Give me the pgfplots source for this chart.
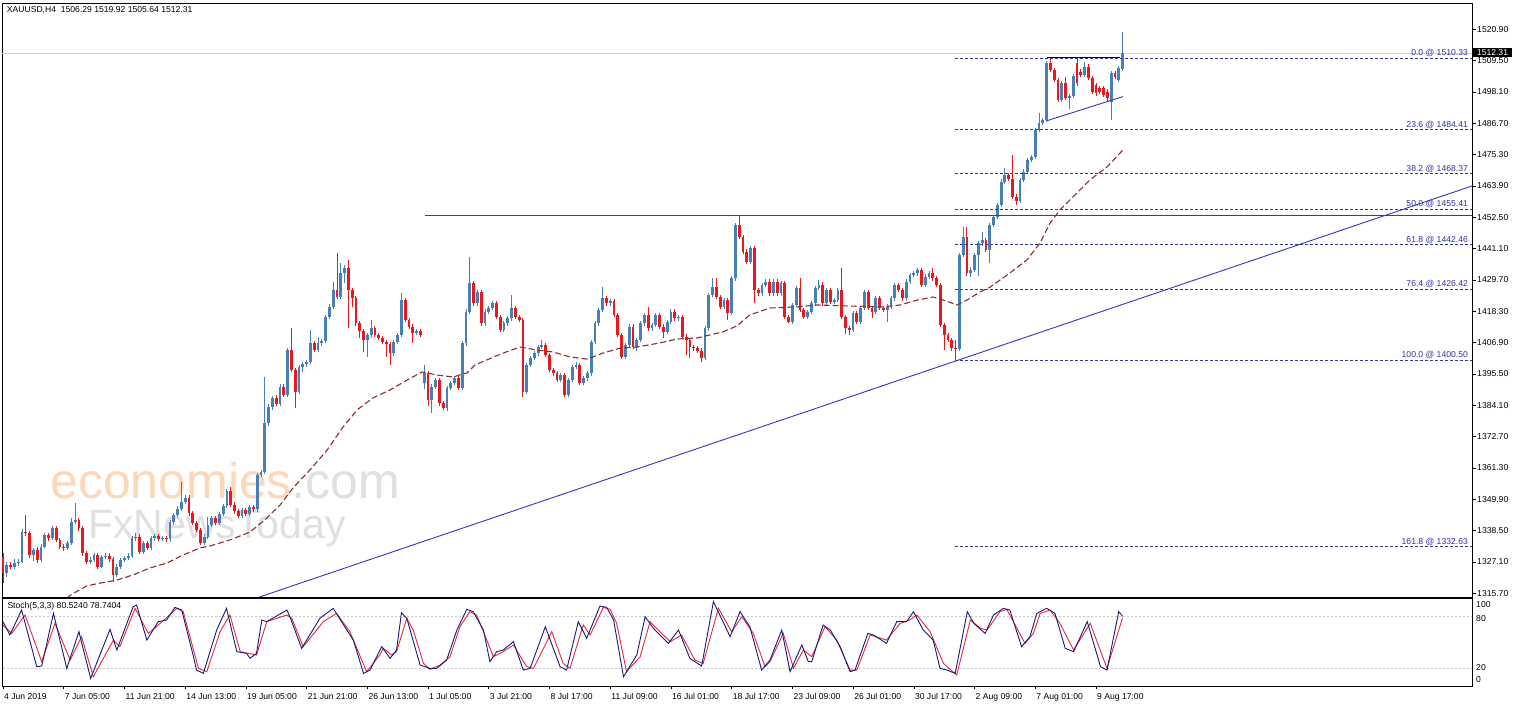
\documentclass[border=0pt]{standalone}
\usepackage{pgfplots}
\pgfplotsset{compat=1.18}
\usepackage{pgfplotstable}
\usepackage{fontspec}
\setmainfont{Liberation Sans}
\definecolor{upc}{RGB}{70,128,182}
\definecolor{dnc}{RGB}{236,22,28}
\definecolor{navyl}{RGB}{55,55,185}
\definecolor{mac}{RGB}{140,45,45}
\definecolor{kcol}{RGB}{25,25,120}
\definecolor{dcol}{RGB}{232,40,60}
\definecolor{fibc}{RGB}{50,50,160}
\definecolor{wmor}{RGB}{252,216,184}
\definecolor{wmgr}{RGB}{224,224,224}
\newcommand{\lab}{\fontsize{8.6}{10}\selectfont}
\pgfplotsset{candle/.style={forget plot, only marks, mark=*, mark size=0pt, mark options={draw=none, fill=none}}}
\pgfplotstableread{
i o h l c
0 1329.0 1330.2 1319.3 1323.0
1 1323.0 1327.2 1321.8 1326.0
2 1326.0 1327.0 1324.6 1325.4
3 1325.4 1328.0 1324.5 1326.8
4 1326.8 1328.2 1325.8 1327.2
5 1327.2 1339.0 1326.6 1338.1
6 1338.1 1344.2 1336.5 1337.5
7 1337.5 1338.3 1328.5 1329.6
8 1329.6 1332.2 1327.3 1331.4
9 1331.4 1332.7 1326.6 1327.8
10 1327.8 1333.5 1327.0 1332.7
11 1332.7 1337.7 1332.0 1336.9
12 1336.9 1337.8 1334.9 1335.7
13 1335.7 1340.3 1335.0 1339.3
14 1339.3 1340.0 1334.3 1335.1
15 1335.1 1335.9 1331.9 1332.7
16 1332.7 1333.5 1331.2 1332.1
17 1332.1 1334.7 1331.3 1333.9
18 1333.9 1343.0 1333.1 1341.8
19 1341.8 1348.4 1341.0 1342.4
20 1342.4 1343.2 1338.5 1339.3
21 1339.3 1340.1 1329.4 1330.2
22 1330.2 1331.0 1326.4 1327.2
23 1327.2 1329.0 1326.4 1327.8
24 1327.8 1330.4 1327.0 1329.6
25 1329.6 1330.4 1324.6 1325.4
26 1325.4 1329.8 1324.8 1329.0
27 1329.0 1330.2 1328.2 1329.4
28 1329.4 1330.2 1327.2 1328.0
29 1328.0 1328.8 1319.9 1322.4
30 1322.4 1326.2 1321.6 1325.4
31 1325.4 1328.6 1324.6 1327.8
32 1327.8 1329.4 1327.0 1328.6
33 1328.6 1330.2 1327.8 1329.4
34 1329.4 1336.5 1328.6 1335.7
35 1335.7 1337.5 1334.9 1336.3
36 1336.3 1337.1 1330.0 1330.8
37 1330.8 1334.7 1330.0 1333.9
38 1333.9 1334.7 1331.3 1332.1
39 1332.1 1336.5 1331.3 1335.7
40 1335.7 1337.3 1334.9 1336.5
41 1336.5 1337.3 1334.6 1335.4
42 1335.4 1336.6 1334.6 1335.8
43 1335.8 1336.6 1334.5 1335.3
44 1335.3 1342.5 1334.5 1341.5
45 1341.5 1345.0 1340.7 1344.2
46 1344.2 1347.3 1343.4 1346.5
47 1346.5 1356.3 1345.7 1349.0
48 1349.0 1351.3 1348.2 1350.5
49 1350.5 1351.3 1344.0 1344.8
50 1344.8 1345.6 1340.4 1341.2
51 1341.2 1342.0 1337.9 1338.7
52 1338.7 1339.5 1333.1 1333.9
53 1333.9 1337.1 1333.1 1336.3
54 1336.3 1343.6 1335.5 1340.5
55 1340.5 1343.8 1339.7 1343.0
56 1343.0 1343.8 1340.4 1341.2
57 1341.2 1345.3 1340.4 1344.5
58 1344.5 1348.3 1343.7 1347.5
59 1347.5 1353.8 1346.7 1353.0
60 1353.0 1354.5 1347.2 1348.0
61 1348.0 1348.8 1344.7 1345.5
62 1345.5 1346.3 1343.0 1343.8
63 1343.8 1346.8 1343.0 1346.0
64 1346.0 1346.8 1343.7 1344.5
65 1344.5 1347.8 1343.7 1347.0
66 1347.0 1347.8 1345.4 1346.2
67 1346.2 1359.6 1345.4 1358.8
68 1358.8 1360.7 1358.0 1359.9
69 1359.9 1394.5 1359.0 1377.5
70 1377.5 1384.4 1376.7 1383.6
71 1383.6 1387.4 1382.4 1386.6
72 1386.6 1388.0 1383.7 1384.5
73 1384.5 1391.7 1383.7 1390.9
74 1390.9 1391.7 1387.2 1388.0
75 1388.0 1405.0 1387.2 1404.2
76 1404.2 1412.1 1396.1 1396.9
77 1396.9 1397.7 1383.0 1389.0
78 1389.0 1398.9 1388.2 1398.1
79 1398.1 1399.8 1396.3 1399.0
80 1399.0 1400.6 1398.2 1399.8
81 1399.8 1411.5 1399.0 1406.6
82 1406.6 1407.4 1403.4 1404.2
83 1404.2 1408.8 1403.4 1406.6
84 1406.6 1408.3 1405.8 1407.5
85 1407.5 1417.1 1406.7 1416.3
86 1416.3 1420.8 1415.5 1420.0
87 1420.0 1429.1 1419.2 1426.0
88 1426.0 1439.4 1422.8 1423.6
89 1423.6 1435.8 1422.8 1432.1
90 1432.1 1435.0 1428.5 1433.9
91 1433.9 1437.0 1412.1 1426.0
92 1426.0 1426.8 1420.0 1423.0
93 1423.0 1423.8 1413.1 1413.9
94 1413.9 1414.7 1408.5 1411.0
95 1411.0 1411.8 1403.6 1407.9
96 1407.9 1410.3 1401.8 1409.5
97 1409.5 1415.1 1408.7 1412.1
98 1412.1 1412.9 1408.9 1409.7
99 1409.7 1410.5 1407.7 1408.5
100 1408.5 1409.3 1406.4 1407.2
101 1407.2 1408.0 1401.8 1406.5
102 1406.5 1407.3 1398.8 1403.0
103 1403.0 1408.0 1402.2 1407.2
104 1407.2 1410.5 1406.4 1409.7
105 1409.7 1424.8 1408.9 1422.4
106 1422.4 1423.2 1414.3 1415.1
107 1415.1 1415.9 1411.9 1412.7
108 1412.7 1413.5 1406.6 1410.3
109 1410.3 1411.8 1409.5 1411.0
110 1411.0 1411.8 1408.9 1409.7
111 1392.1 1398.8 1390.0 1395.7
112 1395.7 1396.5 1384.0 1386.0
113 1386.0 1391.7 1381.2 1390.9
114 1390.9 1394.1 1390.1 1393.3
115 1393.3 1394.1 1384.0 1384.8
116 1384.8 1385.6 1382.4 1383.0
117 1383.0 1391.1 1382.2 1390.3
118 1390.3 1392.9 1389.5 1392.1
119 1392.1 1394.7 1391.3 1393.9
120 1393.9 1394.7 1389.5 1390.3
121 1390.3 1407.4 1389.5 1406.6
122 1406.6 1419.0 1405.8 1418.2
123 1418.2 1438.2 1417.4 1428.5
124 1428.5 1429.3 1420.4 1421.2
125 1421.2 1426.1 1420.4 1425.3
126 1425.3 1426.1 1413.1 1413.9
127 1413.9 1419.0 1413.1 1418.2
128 1418.2 1420.2 1417.4 1419.4
129 1419.4 1422.0 1418.6 1421.2
130 1421.2 1422.0 1415.5 1416.3
131 1416.3 1417.1 1410.7 1411.5
132 1411.5 1414.7 1410.7 1413.9
133 1413.9 1416.5 1413.1 1415.7
134 1415.7 1424.2 1414.9 1419.4
135 1419.4 1420.2 1415.5 1416.3
136 1416.3 1417.1 1414.3 1415.1
137 1415.1 1415.9 1387.2 1389.0
138 1389.0 1399.6 1388.2 1398.8
139 1398.8 1402.0 1398.0 1401.2
140 1401.2 1403.8 1400.4 1403.0
141 1403.0 1406.2 1402.2 1405.4
142 1405.4 1407.9 1404.6 1406.0
143 1406.0 1406.8 1401.6 1402.4
144 1402.4 1403.2 1396.1 1396.9
145 1396.9 1397.7 1394.9 1395.7
146 1395.7 1396.5 1392.5 1393.3
147 1393.3 1395.9 1392.5 1395.1
148 1395.1 1395.9 1387.0 1387.8
149 1387.8 1394.1 1387.0 1393.3
150 1393.3 1398.9 1392.5 1398.1
151 1398.1 1400.0 1397.3 1398.8
152 1398.8 1399.6 1391.3 1392.1
153 1392.1 1394.7 1391.3 1393.9
154 1393.9 1396.5 1393.1 1395.7
155 1395.7 1408.0 1394.9 1407.2
156 1407.2 1414.7 1406.4 1413.9
157 1413.9 1419.6 1413.1 1418.8
158 1418.8 1427.3 1418.0 1423.0
159 1423.0 1423.8 1420.4 1421.2
160 1421.2 1422.8 1420.4 1422.0
161 1422.0 1422.8 1416.1 1416.9
162 1416.9 1417.7 1408.9 1409.7
163 1409.7 1410.5 1401.0 1401.8
164 1401.8 1406.8 1401.0 1406.0
165 1406.0 1413.5 1405.2 1412.7
166 1412.7 1413.5 1404.6 1405.4
167 1405.4 1408.7 1403.8 1407.9
168 1407.9 1414.7 1407.1 1413.9
169 1413.9 1417.7 1413.1 1416.9
170 1416.9 1420.0 1411.3 1412.1
171 1412.1 1414.1 1411.3 1413.3
172 1413.3 1417.7 1412.5 1416.9
173 1416.9 1417.7 1411.9 1412.7
174 1412.7 1413.5 1408.5 1410.9
175 1410.9 1415.3 1410.1 1414.5
176 1414.5 1419.0 1413.7 1418.2
177 1418.2 1419.0 1414.9 1415.7
178 1415.7 1417.1 1414.9 1416.3
179 1416.3 1417.1 1408.3 1409.1
180 1409.1 1409.9 1402.4 1407.9
181 1407.9 1408.7 1401.2 1405.4
182 1405.4 1406.2 1404.0 1404.8
183 1404.8 1405.6 1403.2 1404.0
184 1404.0 1404.8 1400.0 1401.2
185 1401.2 1412.9 1400.4 1412.1
186 1412.1 1425.0 1411.3 1424.2
187 1424.2 1430.3 1423.4 1427.3
188 1427.3 1430.3 1422.8 1423.6
189 1423.6 1424.4 1419.2 1420.0
190 1420.0 1423.3 1419.2 1422.5
191 1422.5 1423.3 1415.1 1417.6
192 1417.6 1431.1 1416.8 1430.3
193 1430.3 1450.5 1429.5 1449.7
194 1449.7 1453.3 1444.6 1445.4
195 1445.4 1446.2 1439.2 1440.0
196 1440.0 1440.8 1435.6 1436.4
197 1436.4 1442.0 1435.6 1441.2
198 1441.2 1442.0 1421.2 1426.0
199 1426.0 1426.8 1424.0 1424.8
200 1424.8 1428.7 1424.0 1427.9
201 1427.9 1429.9 1427.1 1429.1
202 1429.1 1429.9 1424.0 1424.8
203 1424.8 1429.9 1424.0 1429.1
204 1429.1 1429.9 1424.0 1424.8
205 1424.8 1429.3 1424.0 1428.5
206 1428.5 1429.3 1415.5 1416.3
207 1416.3 1417.1 1413.9 1414.5
208 1414.5 1421.4 1413.7 1420.6
209 1420.6 1427.5 1419.8 1426.7
210 1426.7 1430.3 1418.0 1418.8
211 1418.8 1419.6 1415.5 1416.3
212 1416.3 1418.8 1415.5 1418.0
213 1418.0 1422.0 1417.2 1421.2
214 1421.2 1427.5 1420.4 1426.7
215 1426.7 1429.7 1425.9 1427.9
216 1427.9 1429.1 1420.4 1421.2
217 1421.2 1426.8 1420.4 1426.0
218 1426.0 1426.8 1421.0 1421.8
219 1421.8 1423.2 1421.0 1422.4
220 1422.4 1426.8 1421.6 1426.0
221 1426.0 1433.9 1415.5 1416.3
222 1416.3 1417.1 1410.0 1412.1
223 1412.1 1412.9 1409.7 1411.5
224 1411.5 1418.4 1410.7 1417.6
225 1417.6 1418.4 1413.7 1414.5
226 1414.5 1420.2 1413.7 1419.4
227 1419.4 1426.2 1418.6 1425.4
228 1425.4 1426.2 1418.6 1419.4
229 1419.4 1420.2 1416.0 1418.2
230 1418.2 1423.8 1417.4 1423.0
231 1423.0 1423.8 1418.6 1419.4
232 1419.4 1420.2 1418.0 1418.8
233 1418.8 1420.8 1414.5 1420.0
234 1420.0 1423.8 1419.2 1423.0
235 1423.0 1428.7 1422.2 1427.9
236 1427.9 1428.7 1425.2 1426.0
237 1426.0 1426.8 1422.2 1423.0
238 1423.0 1429.9 1422.2 1429.1
239 1429.1 1432.3 1428.3 1431.5
240 1431.5 1432.9 1430.7 1432.1
241 1432.1 1434.1 1431.3 1433.3
242 1433.3 1434.1 1427.1 1427.9
243 1427.9 1431.7 1427.1 1430.9
244 1430.9 1432.9 1430.1 1432.1
245 1432.1 1433.9 1429.5 1430.3
246 1430.3 1431.1 1427.1 1427.9
247 1427.9 1428.7 1412.5 1413.3
248 1413.3 1414.1 1404.2 1409.7
249 1409.7 1410.5 1407.1 1407.9
250 1407.9 1408.7 1404.0 1404.8
251 1404.8 1407.9 1400.5 1404.5
252 1404.5 1439.6 1403.7 1438.8
253 1438.8 1449.1 1438.0 1445.5
254 1445.5 1449.1 1431.3 1432.1
255 1432.1 1434.3 1430.9 1433.5
256 1433.5 1439.6 1432.7 1438.8
257 1438.8 1443.8 1431.0 1443.0
258 1443.0 1447.0 1442.2 1444.2
259 1444.2 1445.0 1439.8 1440.6
260 1440.6 1450.5 1436.0 1449.7
261 1449.7 1453.5 1448.9 1452.7
262 1452.7 1457.8 1451.9 1457.0
263 1457.0 1466.3 1456.2 1465.5
264 1465.5 1470.3 1464.7 1467.9
265 1467.9 1468.7 1465.7 1466.5
266 1466.5 1475.2 1459.2 1460.0
267 1460.0 1460.8 1457.0 1458.5
268 1458.5 1466.9 1457.7 1466.1
269 1466.1 1469.9 1465.3 1469.1
270 1469.1 1474.1 1468.3 1473.3
271 1473.3 1475.3 1472.5 1474.5
272 1474.5 1485.1 1473.7 1484.3
273 1484.3 1490.3 1483.5 1486.7
274 1486.7 1488.7 1485.9 1487.9
275 1487.9 1509.3 1487.1 1508.5
276 1508.5 1510.3 1505.3 1506.1
277 1506.1 1506.9 1501.6 1502.4
278 1502.4 1503.2 1494.4 1495.2
279 1495.2 1502.0 1494.4 1501.2
280 1501.2 1503.5 1495.0 1495.8
281 1495.8 1497.4 1492.0 1496.6
282 1496.6 1504.8 1495.8 1504.0
283 1508.5 1510.3 1500.4 1501.2
284 1505.5 1506.3 1503.5 1504.3
285 1504.3 1509.0 1503.5 1507.3
286 1507.3 1508.1 1502.3 1503.1
287 1503.1 1503.9 1497.4 1498.2
288 1500.5 1501.3 1496.8 1497.6
289 1499.4 1500.2 1497.4 1498.2
290 1499.4 1500.2 1496.2 1497.0
291 1498.2 1499.0 1494.6 1495.8
292 1494.6 1505.7 1488.0 1504.9
293 1504.9 1505.7 1502.9 1503.7
294 1502.4 1507.5 1501.6 1506.7
295 1506.29 1519.92 1505.64 1512.31
}\candles
\begin{document}
\begin{tikzpicture}
\fill[white] (0,0) rectangle (1515pt,706pt);
\useasboundingbox (0,0) rectangle (1515pt,706pt);
% watermark
\node[anchor=base west, inner sep=0pt, text depth=0pt, font=\fontsize{50}{50}\selectfont, text=wmor] at (50pt,207pt) {economies\textcolor{wmgr}{.com}};
\node[anchor=base west, inner sep=0pt, font=\fontsize{41}{41}\selectfont, text=wmgr] at (88pt,167pt) {FxNewsToday};
% main price panel
\begin{axis}[
  at={(2pt,109pt)}, anchor=south west, scale only axis,
  width=1470pt, height=594pt,
  xmin=-0.2635, xmax=387.09, ymin=1314.35, ymax=1530.47,
  axis line style={black, line width=0.8pt},
  xtick=\empty,
  ytick={1315.7,1327.1,1338.5,1349.9,1361.3,1372.7,1384.1,1395.5,1406.9,1418.3,1429.7,1441.1,1452.5,1463.9,1475.3,1486.7,1498.1,1509.5,1520.9},
  yticklabels={1315.70,1327.10,1338.50,1349.90,1361.30,1372.70,1384.10,1395.50,1406.90,1418.30,1429.70,1441.10,1452.50,1463.90,1475.30,1486.70,1498.10,1509.50,1520.90},
  ytick pos=right, yticklabel pos=right,
  tick align=outside, major tick length=4pt,
  tick style={black, line width=0.6pt},
  yticklabel style={font=\lab, anchor=west, inner sep=0pt, xshift=1pt},
]
% bid line
\addplot[gray!35, line width=0.8pt, forget plot] coordinates {(-1,1512.31) (388,1512.31)};
% up candles
\addplot[candle, restrict expr to domain={\thisrow{c}-\thisrow{o}}{0:1000},
  error bars/.cd, y dir=plus, y explicit, error mark=none, error bar style={upc, line width=0.9pt}]
  table[x=i, y=l, y error plus expr={\thisrow{h}-\thisrow{l}}] {\candles};
\addplot[candle, restrict expr to domain={\thisrow{c}-\thisrow{o}}{0:1000},
  error bars/.cd, y dir=plus, y explicit, error mark=none, error bar style={upc, line width=2.8pt}]
  table[x=i, y=o, y error plus expr={\thisrow{c}-\thisrow{o}}] {\candles};
% down candles
\addplot[candle, restrict expr to domain={\thisrow{c}-\thisrow{o}}{-1000:-0.001},
  error bars/.cd, y dir=plus, y explicit, error mark=none, error bar style={dnc, line width=0.9pt}]
  table[x=i, y=l, y error plus expr={\thisrow{h}-\thisrow{l}}] {\candles};
\addplot[candle, restrict expr to domain={\thisrow{c}-\thisrow{o}}{-1000:-0.001},
  error bars/.cd, y dir=plus, y explicit, error mark=none, error bar style={dnc, line width=2.8pt}]
  table[x=i, y=c, y error plus expr={\thisrow{o}-\thisrow{c}}] {\candles};
% moving average
\addplot[mac, line width=1.1pt, dash pattern=on 6pt off 3pt, forget plot] coordinates {
(13.0,1310.0) (18.2,1315.4) (22.1,1318.4) (25.6,1319.4) (30.0,1320.5) (34.3,1322.4) (38.7,1324.9) (43.2,1326.7) (47.4,1329.6) (51.9,1332.2) (54.5,1332.9) (59.8,1335.1) (65.1,1338.0) (69.0,1342.4) (73.0,1347.8) (76.4,1354.0) (80.9,1360.6) (85.4,1367.8) (89.6,1376.2) (93.3,1382.4) (97.5,1386.8) (102.0,1389.7) (106.5,1393.3) (110.4,1396.2) (114.4,1395.1) (118.6,1394.4) (122.3,1395.9) (124.4,1398.8) (127.5,1400.6) (131.8,1403.1) (136.2,1405.3) (140.7,1404.2) (144.9,1403.5) (149.4,1401.7) (153.9,1400.9) (158.1,1403.1) (162.6,1404.9) (167.1,1405.3) (173.1,1406.8) (177.6,1408.2) (182.9,1408.6) (186.3,1409.7) (189.7,1410.8) (193.4,1413.0) (196.8,1417.0) (202.1,1419.5) (209.2,1419.9) (214.5,1420.6) (223.2,1420.2) (231.9,1419.9) (236.4,1420.6) (240.9,1422.4) (245.1,1423.5) (247.7,1422.4) (251.4,1420.6) (254.0,1422.4) (257.4,1425.3) (260.1,1427.1) (265.3,1432.2) (269.8,1437.0) (273.3,1443.2) (275.9,1450.4) (278.5,1455.2) (281.9,1459.9) (286.4,1466.1) (290.9,1470.8) (295.1,1477.0)};
% resistance and trend lines
\addplot[navyl, line width=1pt, forget plot] coordinates {(111.2,1453.3) (388,1453.3)};
\addplot[navyl, line width=0.9pt, forget plot] coordinates {(60,1310.8) (387.09,1463.9)};
% triangle
\addplot[black!80!blue, line width=0.9pt, forget plot] coordinates {(275.1,1510.5) (294.3,1510.5)};
\addplot[navyl, line width=0.9pt, forget plot] coordinates {(275.1,1487.65) (295.1,1496.4)};
% fibonacci levels
\foreach \p in {1510.33,1484.41,1468.37,1455.41,1442.46,1426.42,1400.50,1332.63}{
  \edef\tmp{\noexpand\addplot[fibc, line width=0.8pt, dash pattern=on 3pt off 2pt, forget plot] coordinates {(250.9,\p) (388,\p)};}\tmp
}
\node[anchor=south east, inner sep=1pt, font=\lab, text=fibc] at (axis cs:386.3,1510.33) {0.0 @ 1510.33};
\node[anchor=south east, inner sep=1pt, font=\lab, text=fibc] at (axis cs:386.3,1484.41) {23.6 @ 1484.41};
\node[anchor=south east, inner sep=1pt, font=\lab, text=fibc] at (axis cs:386.3,1468.37) {38.2 @ 1468.37};
\node[anchor=south east, inner sep=1pt, font=\lab, text=fibc] at (axis cs:386.3,1455.41) {50.0 @ 1455.41};
\node[anchor=south east, inner sep=1pt, font=\lab, text=fibc] at (axis cs:386.3,1442.46) {61.8 @ 1442.46};
\node[anchor=south east, inner sep=1pt, font=\lab, text=fibc] at (axis cs:386.3,1426.42) {76.4 @ 1426.42};
\node[anchor=south east, inner sep=1pt, font=\lab, text=fibc] at (axis cs:386.3,1400.50) {100.0 @ 1400.50};
\node[anchor=south east, inner sep=1pt, font=\lab, text=fibc] at (axis cs:386.3,1332.63) {161.8 @ 1332.63};
\end{axis}
% stochastic panel
\begin{axis}[
  at={(2pt,20pt)}, anchor=south west, scale only axis,
  width=1470pt, height=88pt,
  xmin=-0.2635, xmax=387.09, ymin=-1.05, ymax=101.9,
  axis line style={black, line width=0.8pt},
  ytick=\empty,
  xtick={0,16,...,288},
  xticklabels={4 Jun 2019,7 Jun 05:00,11 Jun 21:00,14 Jun 13:00,19 Jun 05:00,21 Jun 21:00,26 Jun 13:00,1 Jul 05:00,3 Jul 21:00,8 Jul 17:00,11 Jul 09:00,16 Jul 01:00,18 Jul 17:00,23 Jul 09:00,26 Jul 01:00,30 Jul 17:00,2 Aug 09:00,7 Aug 01:00,9 Aug 17:00},
  xtick pos=bottom, tick align=outside, major tick length=3.5pt,
  tick style={black, line width=0.6pt},
  xticklabel style={font=\lab, anchor=north west, inner sep=0pt, xshift=1pt, yshift=-4pt},
]
\addplot[gray!45, line width=0.6pt, dash pattern=on 2pt off 2pt, forget plot] coordinates {(-1,80) (388,80)};
\addplot[gray!45, line width=0.6pt, dash pattern=on 2pt off 2pt, forget plot] coordinates {(-1,20) (388,20)};
\addplot[dcol, line width=0.9pt, forget plot] coordinates {
(0,70.3) (2.3,60.5) (5.8,82.0) (10.2,27.4) (13.7,72.2) (17.7,29.3) (20.7,56.6) (23.8,9.8) (29.1,52.7) (30.8,44.9) (34.8,89.8) (38.3,60.5) (41.4,72.2) (45.8,89.8) (47.5,85.9) (51.5,19.6) (53.7,15.7) (57.2,62.5) (59.8,82.0) (62.5,39.1) (66.8,35.2) (69.5,74.2) (74.8,82.0) (76.1,78.1) (79.1,44.9) (84.4,74.2) (87.9,83.9) (91.4,62.5) (95.8,15.7) (99.3,35.2) (100.2,43.0) (102.4,35.2) (103.7,39.1) (106.4,78.1) (108.1,64.4) (110.8,25.4) (112.5,18.4) (115.2,23.5) (117.8,33.2) (120.4,68.3) (123.0,85.9) (124.8,82.0) (127.5,52.7) (129.2,33.2) (131.8,39.1) (134.5,46.9) (138.0,21.5) (139.8,19.6) (144.6,62.5) (147.6,25.4) (149.4,19.6) (152.9,70.3) (154.7,58.6) (158.2,90.9) (160.0,88.6) (161.7,72.2) (164.3,15.7) (167.9,33.2) (170.5,74.2) (172.2,66.4) (175.8,50.8) (178.8,58.6) (182.3,29.3) (184.5,25.4) (188.5,89.8) (192.0,62.5) (194.7,80.0) (197.7,60.5) (200.8,21.5) (202.1,27.4) (205.6,60.5) (208.3,19.6) (210.9,41.0) (213.1,33.2) (216.6,68.3) (219.7,52.7) (223.2,17.6) (225.0,17.6) (228.5,58.6) (232.8,52.7) (236.4,72.2) (238.9,76.1) (240.8,82.0) (244.3,62.5) (247.8,25.4) (251.3,11.8) (254.9,76.1) (257.6,66.4) (259.3,64.4) (262.7,85.9) (264.5,88.6) (269.3,48.8) (271.5,60.5) (273.3,83.9) (275.9,87.8) (278.5,72.2) (282.1,41.0) (286.5,72.2) (290.9,19.6) (295.0,78.7)};
\addplot[kcol, line width=0.9pt, forget plot] coordinates {
(0,74.2) (1.8,58.6) (4.9,87.8) (8.9,21.5) (10.2,22.3) (13.3,83.9) (16.8,19.6) (20.0,62.5) (23.1,7.9) (28.2,65.2) (30.0,41.0) (34.3,91.7) (35.2,93.7) (37.9,52.7) (40.9,74.2) (43.1,76.1) (45.3,90.9) (47.1,87.8) (50.2,33.2) (51.0,17.6) (52.8,13.7) (56.3,64.4) (58.9,89.8) (61.6,39.1) (64.2,37.1) (65.1,31.3) (66.8,37.1) (68.2,76.1) (69.5,74.2) (74.8,87.8) (75.6,80.0) (78.7,43.0) (83.5,78.1) (87.0,89.8) (90.6,64.4) (92.3,52.7) (95.0,13.7) (96.7,17.6) (99.8,44.9) (102.0,31.3) (103.7,41.0) (105.0,84.7) (106.4,78.1) (109.9,23.5) (112.5,19.6) (114.3,19.6) (116.9,29.3) (119.6,64.4) (122.2,88.6) (123.9,85.9) (126.6,64.4) (128.3,27.4) (130.1,39.1) (131.8,41.0) (134.5,50.8) (137.1,17.6) (138.9,19.6) (142.9,68.3) (146.8,21.5) (148.5,17.6) (151.6,74.2) (153.8,54.7) (157.3,92.5) (159.1,90.9) (160.9,76.1) (163.5,9.8) (167.0,35.2) (169.2,80.0) (171.4,66.4) (175.3,48.8) (178.0,64.4) (181.0,31.3) (184.1,22.3) (187.2,97.6) (191.6,56.6) (194.2,85.9) (196.8,68.3) (199.9,17.6) (202.1,29.3) (205.2,64.4) (207.4,15.7) (210.5,46.9) (212.2,27.4) (213.1,27.4) (216.1,70.3) (218.0,64.4) (220.6,44.9) (223.2,15.7) (224.5,17.6) (227.9,60.5) (229.4,58.6) (232.8,48.8) (235.5,74.2) (238.1,74.2) (239.9,85.9) (242.5,64.4) (245.1,52.7) (246.9,19.6) (248.7,17.6) (250.9,13.7) (254.1,85.9) (255.8,72.2) (258.8,60.5) (261.0,82.0) (263.6,89.8) (265.3,87.8) (268.4,44.9) (270.6,56.6) (272.4,83.9) (275.0,89.8) (277.2,83.9) (279.9,43.0) (282.1,39.1) (285.7,74.2) (289.2,21.5) (290.9,17.6) (294.0,86.0) (295.0,80.5)};
\end{axis}
% texts
\node[anchor=west, inner sep=0pt, font=\lab] at (6.7pt,695.5pt) {XAUUSD,H4\ \ 1506.29 1519.92 1505.64 1512.31};
\node[anchor=west, inner sep=0pt, font=\lab] at (7.3pt,100pt) {Stoch(5,3,3) 80.5240 78.7404};
\node[fill=black, text=white, inner sep=0pt, minimum width=38.4pt, minimum height=9pt, font=\lab] at (1492.5pt,653.5pt) {1512.31};
\node[anchor=west, inner sep=0pt, font=\lab] at (1476pt,101pt) {100};
\node[anchor=west, inner sep=0pt, font=\lab] at (1476pt,87.5pt) {80};
\node[anchor=west, inner sep=0pt, font=\lab] at (1476pt,38pt) {20};
\node[anchor=west, inner sep=0pt, font=\lab] at (1476pt,26.5pt) {0};
\end{tikzpicture}
\end{document}
